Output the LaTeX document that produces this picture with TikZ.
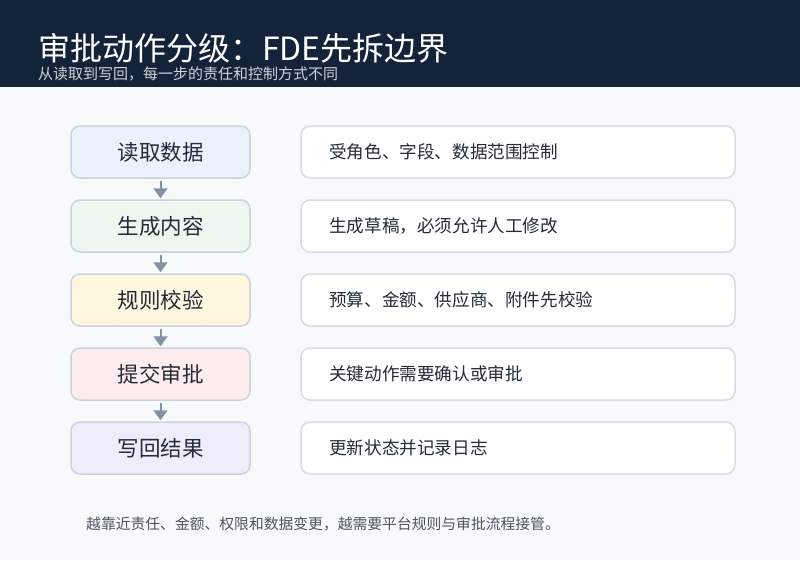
\documentclass[tikz,border=0pt]{standalone}
\usepackage{fontspec}
\setmainfont{Noto Sans CJK SC}
\usetikzlibrary{arrows.meta}
\definecolor{hdr}{HTML}{13233A}
\definecolor{bg}{HTML}{F7F9FB}
\definecolor{bd}{HTML}{CBD3DF}
\definecolor{txt}{HTML}{232C38}
\definecolor{sub}{HTML}{4B5563}
\definecolor{arr}{HTML}{8592A3}
\definecolor{fa}{HTML}{E9F2FD}
\definecolor{fb}{HTML}{EEF6F0}
\definecolor{fc}{HTML}{FFF6E0}
\definecolor{fd}{HTML}{FFECEC}
\definecolor{fe}{HTML}{EFEDFC}
\tikzset{
  stage/.style={draw=bd, line width=1.5pt, rounded corners=9pt, minimum width=179pt, minimum height=52pt, inner sep=0pt, font=\fontsize{21.5pt}{24pt}\selectfont, text=txt},
  note/.style={draw=bd!80, line width=1.5pt, fill=white, rounded corners=9pt, minimum width=434pt, minimum height=52pt, inner sep=0pt},
  notetext/.style={anchor=west, inner sep=0pt, font=\fontsize{17.6pt}{20pt}\selectfont, text=txt},
  flow/.style={draw=arr, line width=2pt, -{Triangle[width=14pt,length=10pt]}, shorten >=1pt, shorten <=2pt},
}
\begin{document}
\begin{tikzpicture}[x=1pt,y=-1pt]
\useasboundingbox (0,0) rectangle (800,560);
\fill[bg] (0,0) rectangle (800,560);
\fill[hdr] (0,0) rectangle (800,87);
\node[anchor=base west, text=white, inner sep=0pt, font=\fontsize{32pt}{36pt}\selectfont] (title) at (38,60) {审批动作分级：FDE先拆边界};
\node[anchor=base west, text=white!80!hdr, inner sep=0pt, font=\fontsize{15pt}{17pt}\selectfont] (subtitle) at (38,79) {从读取到写回，每一步的责任和控制方式不同};
\node[stage, fill=fa] (s1) at (160.5,152) {读取数据};
\node[stage, fill=fb] (s2) at (160.5,226) {生成内容};
\node[stage, fill=fc] (s3) at (160.5,300) {规则校验};
\node[stage, fill=fd] (s4) at (160.5,374) {提交审批};
\node[stage, fill=fe] (s5) at (160.5,448) {写回结果};
\foreach \i/\t in {1/受角色、字段、数据范围控制, 2/生成草稿，必须允许人工修改, 3/预算、金额、供应商、附件先校验, 4/关键动作需要确认或审批, 5/更新状态并记录日志}{
  \node[note] (n\i) at (518,{152+74*(\i-1)}) {};
  \node[notetext] (t\i) at (329,{152+74*(\i-1)}) {\t};
}
\draw[flow] (s1) -- (s2);
\draw[flow] (s2) -- (s3);
\draw[flow] (s3) -- (s4);
\draw[flow] (s4) -- (s5);
\node[anchor=base west, inner sep=0pt, text=sub, font=\fontsize{14.8pt}{18pt}\selectfont] (foot) at (86,529) {越靠近责任、金额、权限和数据变更，越需要平台规则与审批流程接管。};
\end{tikzpicture}
\end{document}
